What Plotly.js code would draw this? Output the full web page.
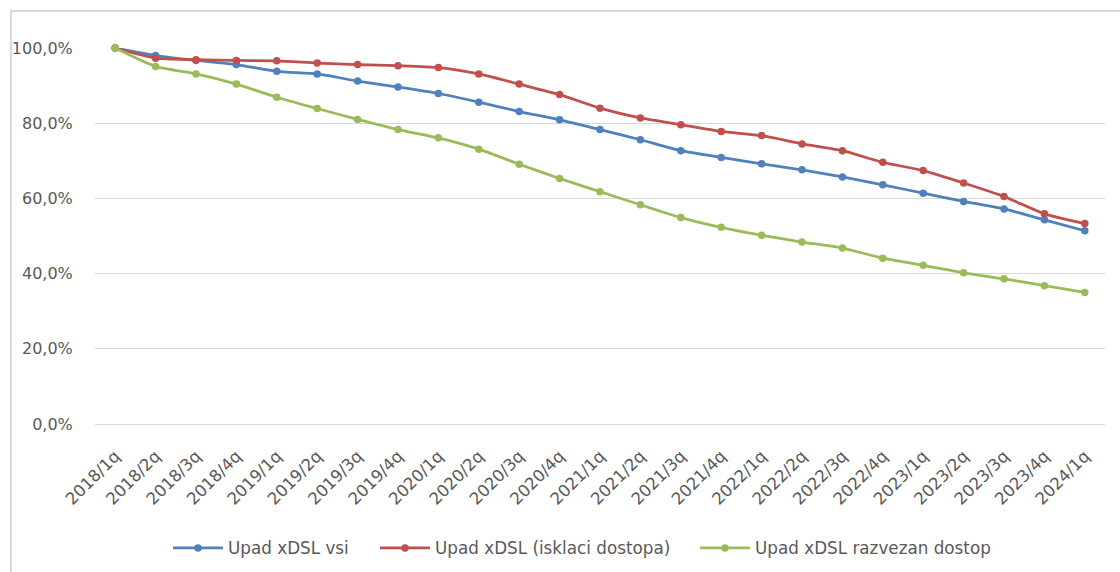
<!DOCTYPE html>
<html>
<head>
<meta charset="utf-8">
<script src="https://cdn.plot.ly/plotly-3.0.1.min.js"></script>
<style>
  html, body { margin: 0; padding: 0; background: #fff; }
  #wrap { position: relative; width: 1120px; height: 572px; overflow: hidden; }
  #chart { width: 1120px; height: 572px; }
  #frame { position: absolute; left: 10px; top: 10px; width: 1200px; height: 700px;
           border-left: 2px solid #D9D9D9; border-top: 2px solid #D9D9D9; pointer-events: none; }
</style>
</head>
<body>
<div id="wrap">
  <div id="chart"></div>
  <div id="frame"></div>
</div>
<script>
const categories = ['2018/1q','2018/2q','2018/3q','2018/4q','2019/1q','2019/2q','2019/3q','2019/4q',
  '2020/1q','2020/2q','2020/3q','2020/4q','2021/1q','2021/2q','2021/3q','2021/4q',
  '2022/1q','2022/2q','2022/3q','2022/4q','2023/1q','2023/2q','2023/3q','2023/4q','2024/1q'];

const upadVsi = [100, 98.0, 96.7, 95.6, 93.8, 93.1, 91.2, 89.6, 87.9, 85.6, 83.1, 80.9, 78.3,
  75.6, 72.7, 70.9, 69.2, 67.6, 65.7, 63.6, 61.4, 59.2, 57.2, 54.3, 51.4];
const upadIsklaci = [100, 97.3, 96.9, 96.7, 96.6, 96.0, 95.6, 95.3, 94.8, 93.1, 90.4, 87.6, 84.0,
  81.4, 79.6, 77.8, 76.7, 74.5, 72.7, 69.6, 67.4, 64.1, 60.5, 55.9, 53.3];
const upadRazvezan = [100, 95.1, 93.1, 90.4, 86.9, 83.9, 81.0, 78.3, 76.1, 73.1, 69.1, 65.3, 61.8,
  58.3, 54.9, 52.3, 50.2, 48.4, 46.8, 44.1, 42.2, 40.2, 38.6, 36.8, 35.0];

const seriesNames = ['Upad xDSL vsi', 'Upad xDSL (isklaci dostopa)', 'Upad xDSL razvezan dostop'];
const yTickVals = [0, 20, 40, 60, 80, 100];
const yTickText = ['0,0%', '20,0%', '40,0%', '60,0%', '80,0%', '100,0%'];

const colors = ['#4F81BD', '#C0504D', '#9BBB59'];
const seriesData = [upadVsi, upadIsklaci, upadRazvezan];
const legendIds = ['legend', 'legend2', 'legend3'];

const traces = seriesData.map((vals, i) => ({
  type: 'scatter',
  mode: 'lines+markers',
  name: seriesNames[i],
  legend: legendIds[i],
  x: categories,
  y: vals,
  line: { color: colors[i], width: 2.75, shape: 'spline', smoothing: 0.6 },
  marker: { color: colors[i], size: 7.5, symbol: 'circle' },
  cliponaxis: false
}));

const FAM = 'DejaVu Sans, sans-serif';

function legendAt(xPx) {
  return {
    orientation: 'h',
    xref: 'container', yref: 'container',
    x: xPx / 1120, xanchor: 'left',
    y: 0.042, yanchor: 'middle',
    font: { family: FAM, size: 16.8, color: '#595959' },
    itemwidth: 50,
    bgcolor: 'rgba(0,0,0,0)'
  };
}

const layout = {
  width: 1120,
  height: 572,
  margin: { l: 95, r: 15, t: 48, b: 148 },
  paper_bgcolor: 'rgba(0,0,0,0)',
  plot_bgcolor: 'rgba(0,0,0,0)',
  font: { family: FAM, size: 15, color: '#595959' },
  showlegend: true,
  legend: legendAt(168),
  legend2: legendAt(375),
  legend3: legendAt(695),
  xaxis: {
    type: 'category',
    range: [-0.5, 24.5],
    showgrid: false,
    showline: true,
    linecolor: '#D9D9D9',
    linewidth: 1,
    ticks: 'outside',
    ticklen: 15,
    tickcolor: 'rgba(0,0,0,0)',
    tickangle: -45,
    tickfont: { family: FAM, size: 16.5, color: '#595959' },
    zeroline: false,
    fixedrange: true
  },
  yaxis: {
    range: [0, 100],
    tickvals: yTickVals,
    ticktext: yTickText,
    showgrid: true,
    gridcolor: '#D9D9D9',
    gridwidth: 1,
    zeroline: false,
    showline: false,
    ticks: 'outside',
    ticklen: 18,
    tickcolor: 'rgba(0,0,0,0)',
    tickfont: { family: FAM, size: 16, color: '#595959' },
    fixedrange: true
  }
};

Plotly.newPlot('chart', traces, layout, { displayModeBar: false, staticPlot: true });
</script>
</body>
</html>
